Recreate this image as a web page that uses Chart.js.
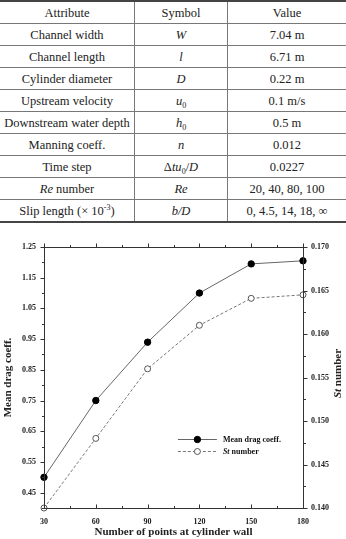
<!DOCTYPE html>
<html>
<head>
<meta charset="utf-8">
<script src="https://cdn.jsdelivr.net/npm/chart.js@4.4.1/dist/chart.umd.min.js"></script>
<style>
  html, body { margin: 0; padding: 0; background: #fff; }
  body { width: 346px; height: 539px; position: relative; overflow: hidden; }
  #tbl { position: absolute; left: 0; top: 0; width: 346px; border-collapse: collapse;
         font-family: "Liberation Serif", "Times New Roman", serif; font-size: 12.5px; color: #222; }
  #tbl td { height: 21px; padding: 0; text-align: center; border-bottom: 1px solid #777; line-height: 14px; }
  #tbl tr:first-child td { border-top: 2px solid #444; }
  #tbl tr:last-child td { border-bottom: 2px solid #444; }
  #tbl td.c1 { width: 134px; border-right: 1px solid #777; }
  #tbl td.c2 { width: 92px; border-right: 1px solid #777; }
  #tbl i { font-style: italic; }
  #tbl sub { font-size: 8px; vertical-align: -3px; line-height: 0; }
  #tbl sup { font-size: 8px; vertical-align: 5px; line-height: 0; }
  #wrap { position: absolute; left: 0; top: 232px; width: 346px; height: 307px; }
</style>
</head>
<body>
<table id="tbl"></table>
<div id="wrap"><canvas id="c" width="346" height="307"></canvas></div>
<script>
// ---------- table data ----------
const tableHeader = ["Attribute", "Symbol", "Value"];
const attributes = ["Channel width", "Channel length", "Cylinder diameter", "Upstream velocity",
  "Downstream water depth", "Manning coeff.", "Time step", "<i>Re</i> number", "Slip length (× 10<sup>-3</sup>)"];
const symbols = ["<i>W</i>", "<i>l</i>", "<i>D</i>", "<i>u</i><sub>0</sub>", "<i>h</i><sub>0</sub>", "<i>n</i>",
  "Δ<i>tu</i><sub>0</sub>/<i>D</i>", "<i>Re</i>", "<i>b/D</i>"];
const values = ["7.04 m", "6.71 m", "0.22 m", "0.1 m/s", "0.5 m", "0.012", "0.0227", "20, 40, 80, 100", "0, 4.5, 14, 18, ∞"];

// ---------- chart data ----------
const pointsAtWall = [30, 60, 90, 120, 150, 180];
const meanDrag = [0.50, 0.75, 0.94, 1.10, 1.195, 1.205];
const stNumber = [0.140, 0.148, 0.156, 0.161, 0.1641, 0.1645];
const xTickValues = [30, 60, 90, 120, 150, 180];
const dragTickValues = [0.45, 0.55, 0.65, 0.75, 0.85, 0.95, 1.05, 1.15, 1.25];
const stTickValues = [0.140, 0.145, 0.150, 0.155, 0.160, 0.165, 0.170];

// build table
(function () {
  const t = document.getElementById('tbl');
  let html = '<tr><td class="c1">' + tableHeader[0] + '</td><td class="c2">' + tableHeader[1] + '</td><td>' + tableHeader[2] + '</td></tr>';
  for (let i = 0; i < attributes.length; i++) {
    html += '<tr><td class="c1">' + attributes[i] + '</td><td class="c2">' + symbols[i] + '</td><td>' + values[i] + '</td></tr>';
  }
  t.innerHTML = html;
})();

const SERIF = '"Liberation Serif", "Times New Roman", serif';
const tickFont = { family: SERIF, size: 8, weight: 'bold' };

const framePlugin = {
  id: 'frame',
  afterDraw(chart) {
    const ctx = chart.ctx, a = chart.chartArea;
    const sx = chart.scales.x, sy = chart.scales.y, sy2 = chart.scales.y2;
    ctx.save();
    ctx.strokeStyle = '#333';
    ctx.lineWidth = 1;
    ctx.strokeRect(Math.round(a.left) + 0.5, Math.round(a.top) + 0.5, Math.round(a.right - a.left), Math.round(a.bottom - a.top));
    ctx.beginPath();
    const L = Math.round(a.left) + 0.5, R = Math.round(a.right) + 0.5, T = Math.round(a.top) + 0.5, B = Math.round(a.bottom) + 0.5;
    for (let i = 0; i < xTickValues.length; i++) {
      const px = Math.round(sx.getPixelForValue(xTickValues[i])) + 0.5;
      ctx.moveTo(px, B); ctx.lineTo(px, B - 4);
      ctx.moveTo(px, T); ctx.lineTo(px, T - 4);
      if (i < xTickValues.length - 1) {
        const mx = Math.round(sx.getPixelForValue((xTickValues[i] + xTickValues[i + 1]) / 2)) + 0.5;
        ctx.moveTo(mx, B); ctx.lineTo(mx, B - 2.5);
        ctx.moveTo(mx, T); ctx.lineTo(mx, T - 2.5);
      }
    }
    for (let i = 0; i < dragTickValues.length; i++) {
      const py = Math.round(sy.getPixelForValue(dragTickValues[i])) + 0.5;
      ctx.moveTo(L, py); ctx.lineTo(L - 4, py);
      const prev = i === 0 ? dragTickValues[0] - 0.05 : (dragTickValues[i - 1] + dragTickValues[i]) / 2;
      const my = Math.round(sy.getPixelForValue(prev)) + 0.5;
      ctx.moveTo(L, my); ctx.lineTo(L - 2.5, my);
    }
    for (let i = 0; i < stTickValues.length; i++) {
      const py = Math.round(sy2.getPixelForValue(stTickValues[i])) + 0.5;
      ctx.moveTo(R, py); ctx.lineTo(R + 4, py);
      if (i < stTickValues.length - 1) {
        const my = Math.round(sy2.getPixelForValue((stTickValues[i] + stTickValues[i + 1]) / 2)) + 0.5;
        ctx.moveTo(R, my); ctx.lineTo(R + 2.5, my);
      }
    }
    ctx.stroke();

    ctx.fillStyle = '#222';
    ctx.translate(338, (a.top + a.bottom) / 2 - 4);
    ctx.rotate(-Math.PI / 2);
    ctx.textBaseline = 'middle';
    const f1 = 'italic bold 11px ' + SERIF, f2 = 'bold 11px ' + SERIF;
    ctx.font = f1; const w1 = ctx.measureText('St').width;
    ctx.font = f2; const w2 = ctx.measureText(' number').width;
    let x0 = -(w1 + w2) / 2;
    ctx.font = f1; ctx.textAlign = 'left'; ctx.fillText('St', x0, 0);
    ctx.font = f2; ctx.fillText(' number', x0 + w1, 0);
    ctx.restore();

    ctx.save();
    const lx0 = a.left + 0.517 * (a.right - a.left);
    const lx1 = lx0 + 39, lm = lx0 + 19.5, tx = lx1 + 6;
    const ly = [a.top + 0.736 * (a.bottom - a.top), a.top + 0.782 * (a.bottom - a.top)];
    chart.data.datasets.forEach((ds, k) => {
      const y = Math.round(ly[k]) + 0.5;
      ctx.strokeStyle = ds.borderColor; ctx.lineWidth = ds.borderWidth;
      ctx.setLineDash(ds.borderDash || []);
      ctx.beginPath(); ctx.moveTo(lx0, y); ctx.lineTo(lx1, y); ctx.stroke();
      ctx.setLineDash([]);
      ctx.beginPath(); ctx.arc(lm, y, ds.pointRadius, 0, Math.PI * 2);
      ctx.fillStyle = ds.pointBackgroundColor; ctx.fill();
      ctx.strokeStyle = ds.pointBorderColor; ctx.lineWidth = ds.pointBorderWidth; ctx.stroke();
      ctx.fillStyle = '#111'; ctx.textBaseline = 'middle'; ctx.textAlign = 'left';
      if (k === 0) {
        ctx.font = 'bold 8px ' + SERIF; ctx.fillText('Mean drag coeff.', tx, y);
      } else {
        ctx.font = 'italic bold 8px ' + SERIF; ctx.fillText('St', tx, y);
        const w = ctx.measureText('St').width;
        ctx.font = 'bold 8px ' + SERIF; ctx.fillText(' number', tx + w, y);
      }
    });
    ctx.restore();
  }
};

new Chart(document.getElementById('c'), {
  type: 'line',
  data: {
    datasets: [
      {
        label: 'Mean drag coeff.',
        data: pointsAtWall.map((x, i) => ({ x, y: meanDrag[i] })),
        yAxisID: 'y',
        borderColor: '#666', borderWidth: 1,
        pointRadius: 3.2, pointBackgroundColor: '#000', pointBorderColor: '#000', pointBorderWidth: 1,
        clip: false, tension: 0
      },
      {
        label: 'St number',
        data: pointsAtWall.map((x, i) => ({ x, y: stNumber[i] })),
        yAxisID: 'y2',
        borderColor: '#777', borderWidth: 1, borderDash: [3, 2],
        pointRadius: 3, pointBackgroundColor: '#fff', pointBorderColor: '#555', pointBorderWidth: 1,
        clip: false, tension: 0
      }
    ]
  },
  options: {
    responsive: false, animation: false, devicePixelRatio: 1,
    layout: { padding: { top: 15, left: 0, right: 0, bottom: 0 } },
    plugins: { legend: { display: false }, tooltip: { enabled: false } },
    scales: {
      x: {
        type: 'linear', position: 'bottom', min: 30, max: 180,
        grid: { display: false, drawTicks: false }, border: { display: false },
        afterBuildTicks: s => { s.ticks = xTickValues.map(v => ({ value: v })); },
        afterFit: s => { s.height = 31; },
        ticks: { font: tickFont, color: '#222', padding: 9, maxRotation: 0, autoSkip: false, callback: v => String(v) },
        title: { display: true, text: 'Number of points at cylinder wall', font: { family: SERIF, size: 11, weight: 'bold' }, color: '#222', padding: 0 }
      },
      y: {
        type: 'linear', position: 'left', min: 0.40, max: 1.25,
        grid: { display: false, drawTicks: false }, border: { display: false },
        afterBuildTicks: s => { s.ticks = dragTickValues.map(v => ({ value: v })); },
        afterFit: s => { s.width = 44; },
        ticks: { font: tickFont, color: '#222', padding: 8, autoSkip: false, callback: v => Number(v).toFixed(2) },
        title: { display: true, text: 'Mean drag coeff.', font: { family: SERIF, size: 11, weight: 'bold' }, color: '#222', padding: { top: 2, bottom: 0 } }
      },
      y2: {
        type: 'linear', position: 'right', min: 0.140, max: 0.170,
        grid: { display: false, drawTicks: false }, border: { display: false },
        afterBuildTicks: s => { s.ticks = stTickValues.map(v => ({ value: v })); },
        afterFit: s => { s.width = 43; },
        ticks: { font: tickFont, color: '#222', padding: 8, autoSkip: false, callback: v => Number(v).toFixed(3) }
      }
    }
  },
  plugins: [framePlugin]
});
</script>
</body>
</html>
